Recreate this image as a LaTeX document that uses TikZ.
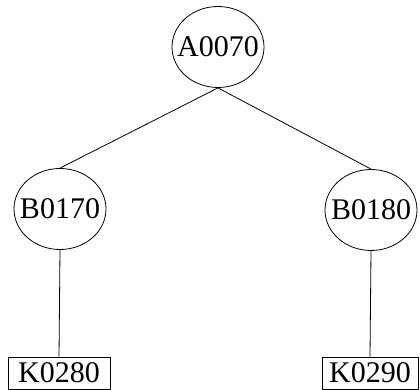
\documentclass[tikz,border=0pt]{standalone}
\usepackage{fontspec}
\setmainfont{Liberation Serif}
\usetikzlibrary{shapes.geometric}
\begin{document}
\begin{tikzpicture}[x=1pt,y=1pt,
  every node/.style={font=\fontsize{30}{33}\selectfont, inner sep=0pt},
  ell/.style={draw, ellipse, inner xsep=-12pt, inner ysep=0pt, minimum width=92pt, minimum height=81pt, line width=0.8pt},
  leaf/.style={draw, rectangle, minimum height=32pt, line width=0.8pt},
  link/.style={line width=0.8pt}]
\useasboundingbox (0,0) rectangle (420,390);
\node[ell] (a) at (218,343) {A0070};
\node[ell] (b1) at (60,181) {B0170};
\node[ell] (b2) at (371,180) {B0180};
\node[leaf, minimum width=102pt] (k1) at (59,17) {K0280};
\node[leaf, minimum width=96pt] (k2) at (370,17) {K0290};
\draw[link] (a.south) -- (b1.north);
\draw[link] (a.south) -- (b2.north);
\draw[link] (b1.south) -- (k1.north);
\draw[link] (b2.south) -- (k2.north);
\end{tikzpicture}
\end{document}
